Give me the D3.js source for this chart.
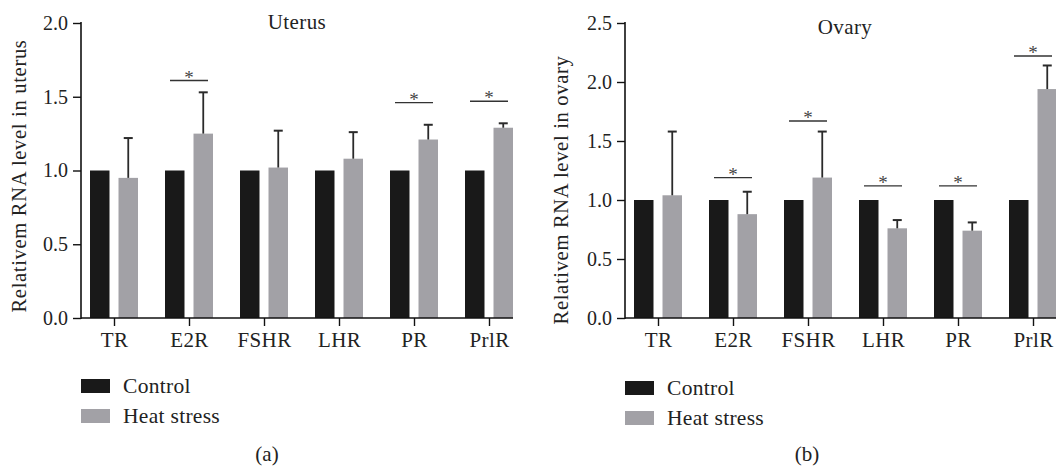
<!DOCTYPE html>
<html>
<head>
<meta charset="utf-8">
<script src="https://cdn.jsdelivr.net/npm/d3@7"></script>
<style>
  body { margin: 0; background: #fff; }
  svg text { font-family: "Liberation Serif", "Times New Roman", serif; fill: #222; }
</style>
</head>
<body>
<div id="chart"></div>
<script>
const categories = ['TR', 'E2R', 'FSHR', 'LHR', 'PR', 'PrlR']
const groups = ['Control', 'Heat stress']

// uterus (a)
const uterusControl = [1, 1, 1, 1, 1, 1]
const uterusHeat = [0.95, 1.25, 1.02, 1.08, 1.21, 1.29]
const uterusHeatErr = [0.27, 0.28, 0.25, 0.18, 0.10, 0.03]
const uterusSig = [null, 1.61, null, null, 1.46, 1.47]   // level of the "*" bar
const uterusTicks = [0, 0.5, 1.0, 1.5, 2.0]

// ovary (b)
const ovaryControl = [1, 1, 1, 1, 1, 1]
const ovaryHeat = [1.04, 0.88, 1.19, 0.76, 0.74, 1.94]
const ovaryHeatErr = [0.54, 0.19, 0.39, 0.07, 0.07, 0.20]
const ovarySig = [null, 1.19, 1.67, 1.12, 1.12, 2.22]
const ovaryTicks = [0, 0.5, 1.0, 1.5, 2.0, 2.5]

const colors = { 'Control': '#191919', 'Heat stress': '#a2a1a6' }

const svg = d3.select('#chart')
    .append('svg')
    .attr('width', 1056)
    .attr('height', 466)

function drawPanel(cfg) {
    const g = svg.append('g')

    const x = d3.scalePoint()
        .domain(categories)
        .range([cfg.x0 + 33, cfg.x0 + 33 + 375])

    const xSub = d3.scaleBand()
        .domain(groups)
        .range([-24, 24])
        .paddingInner(0.316)

    const y = d3.scaleLinear()
        .domain([0, cfg.yMax])
        .range([318, 23])

    const rows = categories.map((c, i) => ({
        cat: c,
        control: cfg.control[i],
        heat: cfg.heat[i],
        err: cfg.err[i],
        sig: cfg.sig[i]
    }))

    // bars
    const cat = g.selectAll('.cat')
        .data(rows).enter()
        .append('g')
        .attr('transform', d => `translate(${x(d.cat)},0)`)

    cat.append('rect')
        .attr('x', xSub('Control'))
        .attr('width', xSub.bandwidth())
        .attr('y', d => y(d.control))
        .attr('height', d => y(0) - y(d.control))
        .attr('fill', colors['Control'])

    cat.append('rect')
        .attr('x', xSub('Heat stress'))
        .attr('width', xSub.bandwidth())
        .attr('y', d => y(d.heat))
        .attr('height', d => y(0) - y(d.heat))
        .attr('fill', colors['Heat stress'])

    // error bars (upper only)
    const ex = xSub('Heat stress') + xSub.bandwidth() / 2
    cat.append('line')
        .attr('x1', ex).attr('x2', ex)
        .attr('y1', d => y(d.heat))
        .attr('y2', d => y(d.heat + d.err))
        .attr('stroke', '#2a2a2a')
        .attr('stroke-width', 1.8)
    cat.append('line')
        .attr('x1', ex - 4.5).attr('x2', ex + 4.5)
        .attr('y1', d => y(d.heat + d.err))
        .attr('y2', d => y(d.heat + d.err))
        .attr('stroke', '#2a2a2a')
        .attr('stroke-width', 2)

    // significance marks
    const sig = cat.filter(d => d.sig !== null)
    sig.append('line')
        .attr('x1', -19).attr('x2', 19)
        .attr('y1', d => y(d.sig)).attr('y2', d => y(d.sig))
        .attr('stroke', '#333')
        .attr('stroke-width', 1.4)
    sig.append('text')
        .attr('text-anchor', 'middle')
        .attr('y', d => y(d.sig) + 3)
        .style('font-size', '19px')
        .style('fill', '#444')
        .text('*')

    // axes
    const yAxis = g.append('g')
        .attr('transform', `translate(${cfg.x0},0)`)
        .call(d3.axisLeft(y).tickValues(cfg.ticks).tickFormat(d3.format('.1f')).tickSize(8).tickSizeOuter(0).tickPadding(5))
    yAxis.select('.domain').remove()
    yAxis.append('line')
        .attr('y1', y(cfg.yMax) - 1).attr('y2', y(0) + 1)
        .attr('stroke', '#111').attr('stroke-width', 1.6)

    const xAxis = g.append('g')
        .attr('transform', `translate(0,${y(0)})`)
        .call(d3.axisBottom(x).tickSize(8).tickPadding(6))
    xAxis.select('.domain').remove()
    xAxis.append('line')
        .attr('x1', cfg.x0).attr('x2', cfg.x0 + 432)
        .attr('stroke', '#111').attr('stroke-width', 1.6)

    g.selectAll('.tick line').attr('stroke', '#111').attr('stroke-width', 1.4)
    yAxis.selectAll('.tick text')
        .attr('fill', null)
        .style('font-size', '20px')
        .style('font-family', '"Liberation Serif", serif')
    xAxis.selectAll('.tick text')
        .attr('fill', null)
        .style('font-size', '21px')
        .style('letter-spacing', '0.4px')
        .style('font-family', '"Liberation Serif", serif')

    // y label
    g.append('text')
        .attr('transform', `translate(${cfg.labelX},${cfg.labelY}) rotate(-90)`)
        .attr('text-anchor', 'middle')
        .style('font-size', '20.5px')
        .style('letter-spacing', '0.7px')
        .text(cfg.yLabel)

    // title
    g.append('text')
        .attr('x', cfg.titleX)
        .attr('y', cfg.titleY)
        .attr('text-anchor', 'middle')
        .style('font-size', '21px')
        .style('letter-spacing', '0.4px')
        .text(cfg.title)

    // legend
    const leg = g.selectAll('.leg')
        .data(groups).enter()
        .append('g')
        .attr('transform', (d, i) => `translate(${cfg.x0},${cfg.legendY + i * 30})`)
    leg.append('rect')
        .attr('width', 29).attr('height', 14)
        .attr('fill', d => colors[d])
    leg.append('text')
        .attr('x', 42).attr('y', 14)
        .style('font-size', '21.5px')
        .style('letter-spacing', '0.3px')
        .text(d => d)

    // panel caption
    g.append('text')
        .attr('x', cfg.captionX)
        .attr('y', 461)
        .attr('text-anchor', 'middle')
        .style('font-size', '21px')
        .text(cfg.caption)
}

drawPanel({
    x0: 81, yMax: 2.0, ticks: uterusTicks,
    control: uterusControl, heat: uterusHeat, err: uterusHeatErr, sig: uterusSig,
    yLabel: 'Relativem RNA level in uterus', labelX: 26, labelY: 176,
    title: 'Uterus', titleX: 297, titleY: 29,
    legendY: 379, caption: '(a)', captionX: 267
})

drawPanel({
    x0: 625, yMax: 2.5, ticks: ovaryTicks,
    control: ovaryControl, heat: ovaryHeat, err: ovaryHeatErr, sig: ovarySig,
    yLabel: 'Relativem RNA level in ovary', labelX: 568, labelY: 190,
    title: 'Ovary', titleX: 845, titleY: 34,
    legendY: 381, caption: '(b)', captionX: 807
})
</script>
</body>
</html>
